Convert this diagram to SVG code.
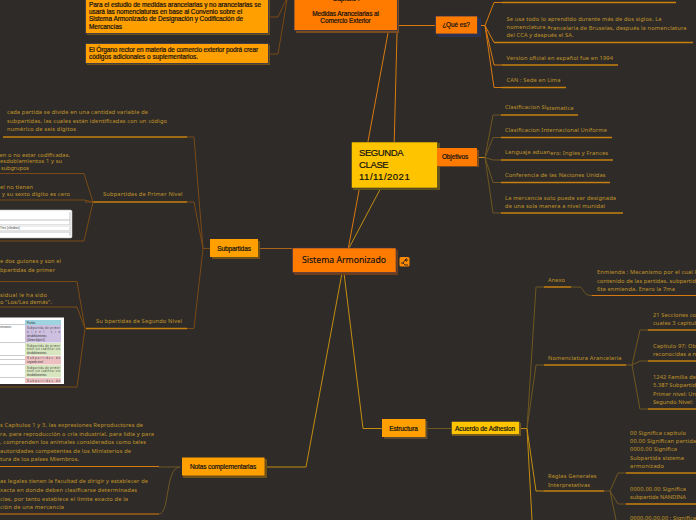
<svg xmlns="http://www.w3.org/2000/svg" width="696" height="520" viewBox="0 0 696 520">
<style>
.t{font-family:"Noto Sans",sans-serif;font-size:5.7px;fill:#b48a2a;stroke:#b48a2a;stroke-width:.08px}
.n{font-family:"Liberation Sans",Arial,sans-serif;fill:#111;stroke:#111;stroke-width:.2px}
.c{text-anchor:middle}
.sm{font-size:6.5px;letter-spacing:-.1px}
.k{fill:none;stroke-linejoin:round}
.b{stroke:#7a4a16;stroke-width:1}
.o{stroke:#d97a10;stroke-width:1}
.g{stroke:#c48d10;stroke-width:1}
.m{stroke:#6e5720;stroke-width:1}
.u{stroke:#c8800f;stroke-width:1.4}
.cell{font-family:"Liberation Sans",Arial,sans-serif;font-size:2.6px;fill:#333}
</style>
<rect width="696" height="520" fill="#2e2b28"/>
<g id="connectors" class="k">
<path class="b" d="M269 17H278L286 0M269 54H278L287 0"/>
<path class="o" d="M388 33L348 250M397 33L394 150"/>
<path class="g" d="M393 165L349 248"/>
<path class="o" d="M398 25.500H435"/>
<path class="b" d="M258 248.500H292" style="stroke:#a8641a"/>
<path class="o" d="M476 25.500H485L494 2.500H502M485 25.500L494 42.500H502M485 25.500L494 65H502M485 25.500L494 87.500H502"/>
<path class="u" d="M502 2.500H676M494 42.500H693M502 65H618M502 87.500H566"/>
<path class="g" d="M476 157.500H485"/>
<path class="m" d="M485 157.500L493 115H501M485 157.500L493 137.500H501M485 157.500L493 160H501M485 157.500L493 182.500H501M485 157.500L493 213H501"/>
<path class="u" d="M501 115H578M501 137.500H612M501 160H613M501 182.500H610M501 213H623"/>
<path class="b" d="M187 137H194L203 248.500H210M187 202H194L203 248.500M187 328.500H194L203 248.500"/>
<path class="u" d="M3 137H187M92 202H187M86 328.500H187"/>
<path class="b" d="M0 173.500H84L93 202M0 200H84L93 202M0 241H84L93 202M85 202H93"/>
<path class="b" d="M0 281.500H77L85 328.500M0 307H77L85 328.500M0 387H77L85 328.500"/>
<path class="g" d="M264 467H306L342 273"/>
<path class="g" d="M382 428.500H363L344 273"/>
<path class="m" d="M425 428.500H451"/>
<path class="m" d="M180 467C165 467 170 514 159 514M180 467H159"/>
<path class="o" d="M0 466.500H159M0 514H159"/>
<path class="g" d="M519 428.500H527"/>
<path class="g" d="M527 428.500L532 520M527 428.500L536 491H544"/>
<path class="m" d="M527 428.500L536 287H544M527 428.500L536 365H544"/>
<path class="u" d="M544 287H571M544 365H626M544 491H604"/>
<path class="m" d="M571 287H580C585 290 583 295.500 592 295.500M626 365H632M604 491H610"/>
<path class="o" d="M592 295.500H696"/>
<path class="m" d="M632 365L640 330H648M632 365L640 361H648M632 365L640 409H648M610 491L618 473H626M610 491L618 504H626M610 491L616 520"/>
<path class="u" d="M648 330H696M648 361H696M648 409H696M626 473H696M626 504H696"/>
</g>
<g id="node-norma1">
<rect x="87" y="-6" width="183" height="41" fill="#6e4f18"/>
<rect x="85.500" y="-7" width="183" height="40.500" fill="#ffa000" stroke="#2b3350" stroke-width=".8"/>
<text class="n sm" x="89" y="6.500" textLength="172">Para el estudio de medidas arancelarias y no arancelarias se</text>
<text class="n sm" x="89" y="13.500" textLength="153">usará las nomenclaturas en base al Convenio sobre el</text>
<text class="n sm" x="89" y="21" textLength="154">Sistema Armonizado de Designación y Codificación de</text>
<text class="n sm" x="89" y="29" textLength="33">Mercancías</text>
</g>
<g id="node-norma2">
<rect x="87" y="45" width="183" height="20" fill="#6e4f18"/>
<rect x="85.500" y="43.500" width="183" height="20" fill="#ffa000" stroke="#2b3350" stroke-width=".8"/>
<text class="n sm" x="89" y="51.500" textLength="169">El Órgano rector en materia de comercio exterior podrá crear</text>
<text class="n sm" x="89" y="58.500" textLength="109">códigos adicionales o suplementarios.</text>
</g>
<g id="node-capitulo">
<rect x="296" y="-6" width="103" height="39" fill="#7a4a20"/>
<rect x="294" y="-8" width="103.500" height="38.500" fill="#ff7b00" stroke="#2b3350" stroke-width=".8"/>
<text class="n sm c" x="346" y="1">Capítulo I</text>
<text class="n sm c" x="345.500" y="15.500">Medidas Arancelarias al</text>
<text class="n sm c" x="345.500" y="22.500">Comercio Exterior</text>
</g>
<g id="node-que-es">
<rect x="438" y="18" width="43" height="19" fill="#2b3350"/>
<rect x="435.500" y="16" width="42" height="18" fill="#ff7b00" stroke="#2b3350" stroke-width=".8"/>
<text class="n sm c" x="456" y="27">¿Qué es?</text>
</g>
<g id="node-segunda">
<rect x="353" y="143" width="87" height="47" fill="#5f5320"/>
<rect x="351.500" y="142" width="86" height="46" fill="#ffc400" stroke="#3b3a20" stroke-width=".6"/>
<text class="n" x="359" y="156" font-size="9.500" textLength="44.500">SEGUNDA</text>
<text class="n" x="359" y="168" font-size="9.500" textLength="29.700">CLASE</text>
<text class="n" x="359" y="180" font-size="9.500" textLength="50.700">11/11/2021</text>
</g>
<g id="node-objetivos">
<rect x="438" y="150" width="41" height="17" fill="#7a4a20"/>
<rect x="437" y="148" width="40" height="18" fill="#ff7b00"/>
<text class="n sm c" x="455" y="159">Objetivos</text>
</g>
<g id="node-sistema">
<rect x="294" y="250" width="104" height="25" fill="#6b3f1e"/>
<rect x="292.500" y="248" width="103.500" height="24.500" fill="#ff7b00" stroke="#3c3350" stroke-width=".6"/>
<text x="344" y="263" text-anchor="middle" font-family="Noto Sans,sans-serif" font-size="8.700" fill="#111" stroke="#111" stroke-width=".15">Sistema Armonizado</text>
<rect x="399.500" y="257" width="10" height="9.500" rx="1.500" fill="#ff8a00"/>
<path d="M401 263H403L405 260H408M405 260L407 258.500M405 260L407 261.500M403 263L405 265H408" fill="none" stroke="#222" stroke-width=".9"/>
</g>
<g id="node-subpartidas">
<rect x="212" y="241" width="48" height="18" fill="#6e4f18"/>
<rect x="210" y="239" width="48" height="18" fill="#ffa000"/>
<text class="n sm c" x="234" y="250.500">Subpartidas</text>
</g>
<g id="node-notas">
<rect x="183" y="459" width="84" height="19" fill="#6e4f18"/>
<rect x="182" y="457.500" width="82.500" height="18" fill="#ffa000"/>
<text class="n sm c" x="223" y="468.500">Notas complementarias</text>
</g>
<g id="node-estructura">
<rect x="384" y="421" width="43.500" height="18" fill="#5a4a30"/>
<rect x="382" y="419" width="43.500" height="18" fill="#ffa000"/>
<text class="n sm c" x="403.500" y="430.500">Estructura</text>
</g>
<g id="node-acuerdo">
<rect x="452" y="423" width="69" height="13" fill="#6e5720"/>
<rect x="451.500" y="421.500" width="68" height="13" fill="#ffc400" stroke="#333" stroke-width=".5"/>
<text class="n sm c" x="485" y="430.500">Acuerdo de Adhesion</text>
</g>
<g id="texts-que-es">
<text class="t" x="506.500" y="20.500" textLength="155">Se usa todo lo aprendido durante más de dos siglos. La</text>
<text class="t" x="506.500" y="29" textLength="180">nomenclatura a<tspan dy=".5">rancelaria de Bruselas, después la nomenclatura</tspan></text>
<text class="t" x="506.500" y="37" textLength="67">del CCA y después el SA.</text>
<text class="t" x="506.500" y="59.500" textLength="106.500">Version oficial e<tspan dy=".5">n español fue en 1994</tspan></text>
<text class="t" x="506.500" y="82" textLength="54">CAN : Sede en Lima</text>
</g>
<g id="texts-objetivos">
<text class="t" x="505" y="109" textLength="68.500">Clasificacion Si<tspan dy=".7">stematica</tspan></text>
<text class="t" x="505" y="132" textLength="102">Clasificacion Internacional Uniforme</text>
<text class="t" x="505" y="154" textLength="103">Lenguaje aduan<tspan dy=".7">ero: Ingles y Frances</tspan></text>
<text class="t" x="505" y="177" textLength="100.500">Conferencia de las Naciones Unidas</text>
<text class="t" x="505" y="199.500" textLength="111">La mercancia so<tspan dy=".7">lo puede ser designada</tspan></text>
<text class="t" x="505" y="208" textLength="100">de una sola manera a nivel munidal</text>
</g>
<g id="texts-subpartidas">
<text class="t" x="7" y="114" textLength="141">cada partida se divide en una cantidad variable de</text>
<text class="t" x="7" y="123" textLength="160">subpartidas, las cuales están identificadas con un código</text>
<text class="t" x="7" y="131" textLength="69">numérico de seis dígitos</text>
<text class="t" x="103" y="196" textLength="79.500">Subpartidas de Primer Nivel</text>
<text class="t" x="-.5" y="157" textLength="70.500">en o no estar codificadas.</text>
<text class="t" x="0" y="163" textLength="62">esdoblamientos 1 y su</text>
<text class="t" x="1" y="170" textLength="28">subgrupos</text>
<text class="t" x="0" y="189" textLength="33">el no tienen</text>
<text class="t" x="2" y="196" textLength="68">y su sexto dígito es cero</text>
<text class="t" x="96" y="323" textLength="86">Su bpartidas de Segundo Nivel</text>
<text class="t" x="0" y="263" textLength="61">e dos guiones y son el</text>
<text class="t" x="0" y="271.500" textLength="55">bpartidas de primer</text>
<text class="t" x="0" y="297" textLength="47">sidual le ha sido</text>
<text class="t" x="0" y="303.500" textLength="52">o "Los/Las demás".</text>
</g>
<g id="texts-notas">
<text class="t" x="0" y="427" textLength="143">s Capítulos 1 y 3, las expresiones Reproductores de</text>
<text class="t" x="0" y="435.500" textLength="154">ra, para reproducción o cría industrial, para lidia y para</text>
<text class="t" x="0" y="444" textLength="146">, comprenden los animales considerados como tales</text>
<text class="t" x="0" y="452.500" textLength="131">autoridades competentes de los Ministerios de</text>
<text class="t" x="0" y="461" textLength="79">tura de los países Miembros.</text>
<text class="t" x="0" y="483" textLength="148">as legales tienen la facultad de dirigir y establecer de</text>
<text class="t" x="0" y="492" textLength="137">xacta en donde deben clasificarse determinadas</text>
<text class="t" x="0" y="500.500" textLength="128">cias, por tanto establece el límite exacto de la</text>
<text class="t" x="0" y="509" textLength="64">ción de una mercancía</text>
</g>
<g id="texts-acuerdo">
<text class="t" x="548" y="282" textLength="17">Anexo</text>
<text class="t" x="597" y="273.500" textLength="99">Enmienda : Mecanismo por el cual l</text>
<text class="t" x="597" y="282.500" textLength="99">contenido de las partidas, subpartid</text>
<text class="t" x="597" y="290.500" textLength="78">6ta enmienda. Enero la 7ma</text>
<text class="t" x="548" y="360" textLength="73.500">Nomenclatura Arancelaria</text>
<text class="t" x="653" y="316.500" textLength="43">21 Secciones co</text>
<text class="t" x="653" y="325" textLength="43">cuales 3 capitul</text>
<text class="t" x="653" y="347.500" textLength="43">Capitulo 97: Ob</text>
<text class="t" x="653" y="356" textLength="43">reconocidas a n</text>
<text class="t" x="653" y="378.500" textLength="43">1242 Familia de</text>
<text class="t" x="653" y="387" textLength="43">5.387 Subpartid</text>
<text class="t" x="653" y="395.500" textLength="43">Primer nivel: Un</text>
<text class="t" x="653" y="404" textLength="40">Segundo Nivel:</text>
<text class="t" x="548" y="478" textLength="48.500">Reglas Generales</text>
<text class="t" x="548" y="486.500" textLength="42">Interpretativas</text>
<text class="t" x="630" y="434.500" textLength="56">00 Significa capitulo</text>
<text class="t" x="630" y="442.500" textLength="66">00.00 Significan partida</text>
<text class="t" x="630" y="451" textLength="47">0000.00 Significa</text>
<text class="t" x="630" y="459.500" textLength="54">Subpartida sistema</text>
<text class="t" x="630" y="468" textLength="34">armonizado</text>
<text class="t" x="630" y="490.500" textLength="56">0000.00.00 Significa</text>
<text class="t" x="630" y="499" textLength="56">subpartida NANDINA</text>
<text class="t" x="630" y="520" textLength="66">0000.00.00.00 : Significa</text>
</g>
<g id="table-primer-nivel">
<rect x="-5" y="210" width="77" height="28" rx="1.500" fill="#fff" stroke="#bbb" stroke-width=".6"/>
<path d="M-5 220H70M-5 225H70M-5 232H70M70 212V236" fill="none" stroke="#aaa" stroke-width=".7"/>
<rect x="-5" y="225" width="75" height="2" fill="#eee"/>
<rect x="-5" y="230" width="75" height="2" fill="#e2e2e2"/>
<text class="cell" x="0" y="229" style="font-size:3px">Tres (cilindros)</text>
</g>
<g id="table-segundo-nivel">
<rect x="-5" y="317.500" width="69" height="66.500" fill="#fff"/>
<rect x="25" y="320" width="36" height="5" fill="#9fd3e0"/>
<rect x="25" y="325" width="36" height="17.500" fill="#cdbfe0"/>
<rect x="25" y="343" width="36" height="12.500" fill="#d8e6c0"/>
<rect x="25" y="356" width="36" height="8.500" fill="#ecc0c0"/>
<rect x="25" y="365" width="36" height="12.500" fill="#d8e6c0"/>
<rect x="25" y="378" width="36" height="5" fill="#ecc0c0"/>
<path d="M-5 324.500H25M-5 342.500H25M-5 355.500H25M-5 359.500H25M-5 364.500H25M-5 377.500H25" fill="none" stroke="#999" stroke-width=".5"/>
<text class="cell" x="27" y="323.500">Partida</text>
<text class="cell" x="0" y="327.500">rensiones</text>
<text class="cell" x="27" y="328.500" textLength="33">Subpartida de primer</text>
<text class="cell" x="27" y="332.500" textLength="33">nivel sin</text>
<text class="cell" x="27" y="336.500">desdoblamientos</text>
<text class="cell" x="27" y="340.500">(último dígito 0)</text>
<text class="cell" x="27" y="346.500" textLength="33">Subpartida de primer</text>
<text class="cell" x="27" y="350" textLength="33">nivel sin codificar sin</text>
<text class="cell" x="27" y="354">desdoblamientos</text>
<text class="cell" x="27" y="359" textLength="33">Subpartidas de</text>
<text class="cell" x="27" y="363">segundo nivel</text>
<text class="cell" x="27" y="368.500" textLength="33">Subpartida de primer</text>
<text class="cell" x="27" y="372" textLength="33">nivel sin codificar sin</text>
<text class="cell" x="27" y="376">desdoblamientos</text>
<text class="cell" x="27" y="381.500" textLength="33">Subpartidas de</text>
</g>
</svg>
